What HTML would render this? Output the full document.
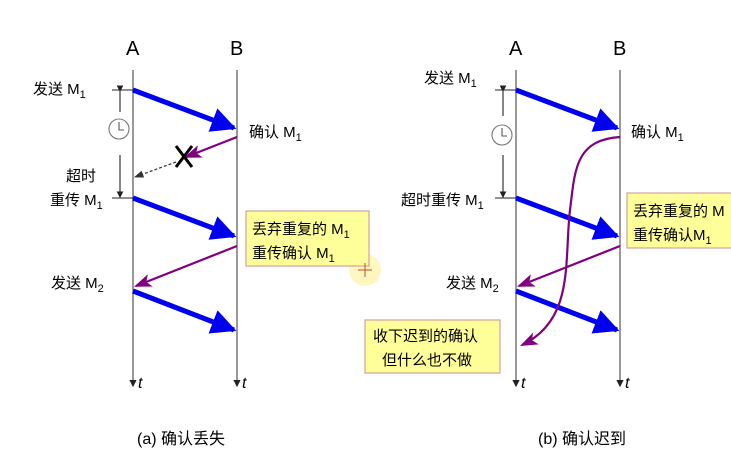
<!DOCTYPE html>
<html><head><meta charset="utf-8"><style>
body{margin:0;background:#fff;}
svg text{font-family:"Liberation Sans","Noto Sans CJK SC",sans-serif;fill:#000}
</style></head><body>
<svg width="731" height="456" viewBox="0 0 731 456" xmlns="http://www.w3.org/2000/svg">
<defs>
<marker id="bh" markerWidth="5" markerHeight="5" refX="4.5" refY="2.5" orient="auto" markerUnits="strokeWidth"><path d="M0,0 L5,2.5 L0,5 Z" fill="#0000f0"/></marker>
<marker id="ph" markerWidth="8" markerHeight="8" refX="7" refY="4" orient="auto" markerUnits="strokeWidth"><path d="M0,1 L8,4 L0,7 L2,4 Z" fill="#800080"/></marker>
<marker id="kh" markerWidth="8" markerHeight="8" refX="7" refY="4" orient="auto" markerUnits="strokeWidth"><path d="M0,1 L8,4 L0,7 Z" fill="#333"/></marker>
<marker id="th" markerWidth="6" markerHeight="6" refX="5" refY="3" orient="auto" markerUnits="strokeWidth"><path d="M0,0 L6,3 L0,6 Z" fill="#222"/></marker>
</defs>
<circle cx="365" cy="270" r="16" fill="#fff4b0" opacity="0.8"/>
<g font-size="20"><text x="126" y="55">A</text><text x="230" y="55">B</text><text x="509" y="55">A</text><text x="613" y="55">B</text></g>
<g stroke="#555" stroke-width="1.2">
<line x1="133" y1="70" x2="133" y2="386" marker-end="url(#th)"/>
<line x1="237" y1="70" x2="237" y2="386" marker-end="url(#th)"/>
<line x1="516" y1="70" x2="516" y2="386" marker-end="url(#th)"/>
<line x1="620" y1="70" x2="620" y2="386" marker-end="url(#th)"/>
</g>
<g font-size="16" font-style="italic"><text x="138" y="388">t</text><text x="242" y="388">t</text><text x="521" y="388">t</text><text x="625" y="388">t</text></g>
<g stroke="#0000f0" stroke-width="5">
<line x1="133" y1="90" x2="234" y2="128" marker-end="url(#bh)"/>
<line x1="133" y1="198" x2="234" y2="236" marker-end="url(#bh)"/>
<line x1="133" y1="291" x2="234" y2="330" marker-end="url(#bh)"/>
<line x1="516" y1="90" x2="617" y2="128" marker-end="url(#bh)"/>
<line x1="516" y1="198" x2="617" y2="236" marker-end="url(#bh)"/>
<line x1="516" y1="291" x2="617" y2="330" marker-end="url(#bh)"/>
</g>
<g stroke="#800080" stroke-width="2.2" fill="none">
<line x1="237" y1="137" x2="186" y2="157" marker-end="url(#ph)"/>
<line x1="237" y1="246" x2="136" y2="286" marker-end="url(#ph)"/>
<line x1="620" y1="246" x2="519" y2="286" marker-end="url(#ph)"/>
<path d="M620,137 C575,140 575,170 570,210 C564,260 575,320 522,345" marker-end="url(#ph)"/>
</g>
<line x1="176" y1="162" x2="135" y2="177" stroke="#333" stroke-width="1.2" stroke-dasharray="3,2" marker-end="url(#kh)"/>
<g stroke="#000" stroke-width="3"><line x1="176" y1="146" x2="192" y2="167"/><line x1="192" y1="146" x2="176" y2="167"/></g>
<g stroke="#222" stroke-width="1.1" fill="none">
<line x1="112" y1="90" x2="133" y2="90"/><line x1="112" y1="198" x2="133" y2="198"/>
<line x1="120" y1="91" x2="120" y2="112" marker-start="url(#th)"/>
<line x1="120" y1="155" x2="120" y2="197" marker-end="url(#th)"/>
<line x1="495" y1="90" x2="516" y2="90"/><line x1="495" y1="198" x2="516" y2="198"/>
<line x1="503" y1="91" x2="503" y2="116" marker-start="url(#th)"/>
<line x1="503" y1="155" x2="503" y2="197" marker-end="url(#th)"/>
<circle cx="119" cy="129" r="10" stroke="#777"/><path d="M119,122 V130 H124" stroke="#555"/>
<circle cx="502" cy="135" r="10" stroke="#777"/><path d="M502,128 V136 H507" stroke="#555"/>
</g>
<g fill="#ffff99" stroke="#d4a0a0" stroke-width="1.2">
<rect x="246" y="211" width="123" height="55"/>
<rect x="627" y="193" width="110" height="55"/>
<rect x="365" y="320" width="135" height="53"/>
</g>
<g font-size="15">
<text x="252" y="234">丢弃重复的 M<tspan font-size="11" dy="4">1</tspan></text>
<text x="252" y="258">重传确认 M<tspan font-size="11" dy="4">1</tspan></text>
<text x="633" y="216">丢弃重复的 M</text>
<text x="633" y="240">重传确认M<tspan font-size="11" dy="4">1</tspan></text>
<text x="373" y="341">收下迟到的确认</text>
<text x="382" y="365">但什么也不做</text>
<text x="33" y="94">发送 M<tspan font-size="11" dy="4">1</tspan></text>
<text x="249" y="137">确认 M<tspan font-size="11" dy="4">1</tspan></text>
<text x="66" y="181">超时</text>
<text x="50" y="205">重传 M<tspan font-size="11" dy="4">1</tspan></text>
<text x="51" y="288">发送 M<tspan font-size="11" dy="4">2</tspan></text>
<text x="424" y="83">发送 M<tspan font-size="11" dy="4">1</tspan></text>
<text x="631" y="137">确认 M<tspan font-size="11" dy="4">1</tspan></text>
<text x="401" y="205">超时重传 M<tspan font-size="11" dy="4">1</tspan></text>
<text x="446" y="288">发送 M<tspan font-size="11" dy="4">2</tspan></text>
<text x="137" y="444" font-size="16">(a) 确认丢失</text>
<text x="538" y="444" font-size="16">(b) 确认迟到</text>
</g>
<g stroke="#c05020" stroke-width="1"><line x1="358" y1="270" x2="372" y2="270"/><line x1="365" y1="263" x2="365" y2="277"/></g>
</svg>
</body></html>
